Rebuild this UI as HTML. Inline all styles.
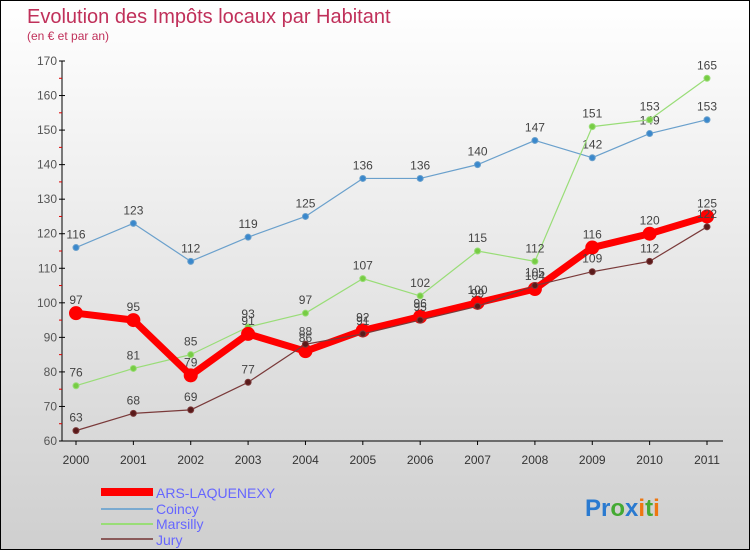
<!DOCTYPE html>
<html><head><meta charset="utf-8"><style>
body{margin:0}
#c{width:750px;height:550px;position:relative;overflow:hidden;box-sizing:border-box;border:1px solid #000;background:linear-gradient(#ffffff,#cfcfcf);font-family:"Liberation Sans",sans-serif}
</style></head><body>
<div id="c">
<svg id="s" width="750" height="550" style="position:absolute;left:0;top:0">
<text x="26" y="22" font-size="20" fill="#c0305a">Evolution des Impôts locaux par Habitant</text>
<text x="26" y="39" font-size="12" fill="#c0305a">(en € et par an)</text>
<g id="axes"></g><g id="series"></g>
<g>
<rect x="100" y="487" width="52" height="8" fill="#f00"/>
<text x="155" y="497" font-size="14" fill="#6666ff">ARS-LAQUENEXY</text>
<rect x="100" y="507" width="52" height="2" fill="#7aaad0"/>
<text x="155" y="513" font-size="14" fill="#6666ff">Coincy</text>
<rect x="100" y="522" width="52" height="2" fill="#99dd77"/>
<text x="155" y="528" font-size="14" fill="#6666ff">Marsilly</text>
<rect x="100" y="537" width="52" height="2" fill="#8a5a5a"/>
<text x="155" y="544" font-size="14" fill="#6666ff">Jury</text>
</g>
<text x="584" y="515" font-size="24" font-weight="bold"><tspan fill="#2a7ad0">Pr</tspan><tspan fill="#44aa33">o</tspan><tspan fill="#2a7ad0">x</tspan><tspan fill="#ee7711">i</tspan><tspan fill="#44aa33">t</tspan><tspan fill="#ee7711">i</tspan></text>
</svg></div>
<script>
const years=["2000","2001","2002","2003","2004","2005","2006","2007","2008","2009","2010","2011"];
const yTicks=[60,70,80,90,100,110,120,130,140,150,160,170];
const ars=[97,95,79,91,86,92,96,100,104,116,120,125];
const coincy=[116,123,112,119,125,136,136,140,147,142,149,153];
const marsilly=[76,81,85,93,97,107,102,115,112,151,153,165];
const jury=[63,68,69,77,88,91,95,99,105,109,112,122];
const NS="http://www.w3.org/2000/svg";
const X=i=>75+i*(706-75)/11;
const Y=v=>440-(v-60)*(380/110);
function mk(t,a,p){const e=document.createElementNS(NS,t);for(const k in a)e.setAttribute(k,a[k]);p.appendChild(e);return e;}
const ax=document.getElementById('axes');
let l=mk('line',{x1:61,y1:60,x2:61,y2:440,stroke:'#000'},ax);


l=mk('line',{x1:61,y1:440,x2:722,y2:440,stroke:'#000'},ax);


yTicks.forEach((v,i)=>{
 mk('line',{x1:58,y1:Y(v),x2:64,y2:Y(v),stroke:'#000'},ax);
 if(i<yTicks.length-1) mk('line',{x1:58,y1:Y(v+5),x2:61,y2:Y(v+5),stroke:'#d00'},ax);
 const t=mk('text',{x:56,y:Y(v)+4,'font-size':12,fill:'#555','text-anchor':'end'},ax);t.textContent=v;
 
 
});
years.forEach((y,i)=>{
 mk('line',{x1:X(i),y1:440,x2:X(i),y2:444,stroke:'#000'},ax);
 const t=mk('text',{x:X(i),y:463,'font-size':12,fill:'#333','text-anchor':'middle'},ax);t.textContent=y;
 
 
});
const sg=document.getElementById('series');
function draw(name,d,color,w,r,dot){
 const g=mk('g',{},sg);
 
 
 const p=mk('polyline',{points:d.map((v,i)=>X(i)+','+Y(v)).join(' '),fill:'none',stroke:color,'stroke-width':w,'stroke-linejoin':'round'},g);
 
 
 d.forEach((v,i)=>{
  const c=mk('circle',{cx:X(i),cy:Y(v),r:r,fill:dot,stroke:color,'stroke-width':1},g);
  
  
  const t=mk('text',{x:X(i),y:Y(v)-9,'font-size':12,fill:'#444','text-anchor':'middle'},g);t.textContent=v;
  
  
 });
}
draw('coincy',coincy,'#6aa0cc',1.2,3,'#3a88cc');
draw('marsilly',marsilly,'#99dd77',1.2,3,'#77cc44');
draw('ars',ars,'#ff0000',7,6.5,'#ff0000');
draw('jury',jury,'#7a3a3a',1.2,3,'#5a1a1a');
</script>
</body></html>
